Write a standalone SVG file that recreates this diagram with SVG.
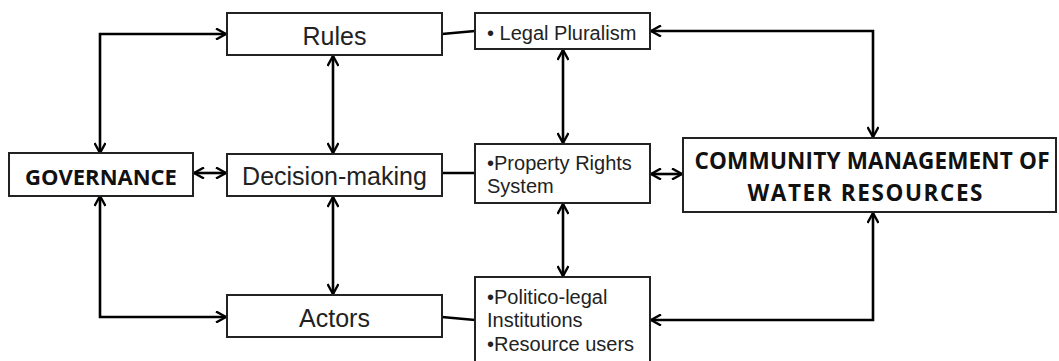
<svg xmlns="http://www.w3.org/2000/svg" width="1059" height="361" viewBox="0 0 1059 361">
<style>
.box{fill:#fff;stroke:#222;stroke-width:2}
.t{font-family:"Liberation Sans",Arial,sans-serif;fill:#222}
.big{font-size:25px;text-anchor:middle}
.small{font-size:20px}
.bold{font-family:"Open Sans","Liberation Sans",sans-serif;font-weight:700;fill:#111;text-anchor:middle}
.c{fill:none;stroke:#000;stroke-width:2.6}
.a{marker-start:url(#ah);marker-end:url(#ah)}
</style>
<defs>
<marker id="ah" viewBox="0 0 12 12" refX="11" refY="6" markerWidth="12" markerHeight="12" markerUnits="userSpaceOnUse" orient="auto-start-reverse">
<path d="M1,0.5 L11,6 L1,11.5" fill="none" stroke="#000" stroke-width="2.4"/>
</marker>
</defs>
<g id="connectors">
<path class="c a" d="M100,153 L100,34 L226,34"/>
<path class="c a" d="M100,196 L100,317 L226,317"/>
<path class="c a" d="M194,173 L226,173"/>
<path class="c a" d="M333,56 L333,153"/>
<path class="c a" d="M333,197 L333,294"/>
<path class="c" d="M442,34 L475,31"/>
<path class="c" d="M442,173 L475,173"/>
<path class="c" d="M442,317 L475,320"/>
<path class="c a" d="M563,50 L563,143"/>
<path class="c a" d="M563,204 L563,276"/>
<path class="c a" d="M651,174 L682,174"/>
<path class="c a" d="M651,31 L873,31 L873,137"/>
<path class="c a" d="M873,213 L873,320 L651,320"/>
</g>
<g id="governance">
<rect class="box" x="9" y="153" width="184" height="43"/>
<text class="bold" x="101" y="185" font-size="22">GOVERNANCE</text>
</g>
<g id="rules">
<rect class="box" x="227" y="13" width="215" height="42"/>
<text class="t big" x="334.5" y="45">Rules</text>
</g>
<g id="decision-making">
<rect class="box" x="227" y="154" width="215" height="42"/>
<text class="t big" x="334.5" y="185">Decision-making</text>
</g>
<g id="actors">
<rect class="box" x="227" y="295" width="215" height="42"/>
<text class="t big" x="334.5" y="327">Actors</text>
</g>
<g id="legal-pluralism">
<rect class="box" x="475" y="13" width="175" height="36"/>
<text class="t small" x="487" y="40">• Legal Pluralism</text>
</g>
<g id="property-rights">
<rect class="box" x="475" y="144" width="175" height="59"/>
<text class="t small" x="487" y="170">•Property Rights</text>
<text class="t small" x="487" y="193">System</text>
</g>
<g id="politico-legal">
<rect class="box" x="475" y="277" width="175" height="90"/>
<text class="t small" x="487" y="304">•Politico-legal</text>
<text class="t small" x="487" y="327">Institutions</text>
<text class="t small" x="487" y="351">•Resource users</text>
</g>
<g id="community-management">
<rect class="box" x="683" y="138" width="373" height="74"/>
<text class="bold" x="872" y="169" font-size="22.5" textLength="355" lengthAdjust="spacing">COMMUNITY MANAGEMENT OF</text>
<text class="bold" x="865" y="201" font-size="22.5" textLength="235" lengthAdjust="spacing">WATER RESOURCES</text>
</g>
</svg>
